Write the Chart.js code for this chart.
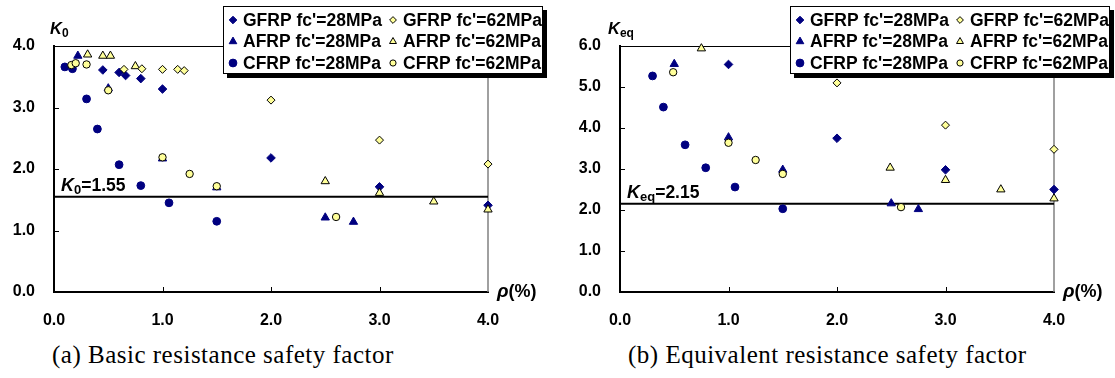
<!DOCTYPE html>
<html><head><meta charset="utf-8">
<script src="https://cdn.jsdelivr.net/npm/chart.js@4.4.0/dist/chart.umd.min.js"></script>
<style>
html,body{margin:0;padding:0;background:#fff;width:1115px;height:378px;overflow:hidden;position:relative;}
.pane{position:absolute;top:0;width:557px;height:340px;}
.cap{position:absolute;font-family:"Liberation Serif","Times New Roman",serif;font-size:25px;line-height:25px;letter-spacing:0.5px;white-space:nowrap;color:#000;}
</style></head><body>
<div class="pane" style="left:0"><canvas id="c1" width="557" height="340"></canvas></div>
<div class="pane" style="left:558px"><canvas id="c2" width="557" height="340"></canvas></div>
<div class="cap" style="left:52px;top:342px">(a) Basic resistance safety factor</div>
<div class="cap" style="left:628px;top:342px">(b) Equivalent resistance safety factor</div>
<script>
// ---------- data ----------
const X_TICKS = [0, 1, 2, 3, 4];
const K0_TICKS = [0, 1, 2, 3, 4];
const KEQ_TICKS = [0, 1, 2, 3, 4, 5, 6];
const K0_LIMIT = 1.55;
const KEQ_LIMIT = 2.15;
const SERIES_NAMES = ["GFRP fc'=28MPa", "AFRP fc'=28MPa", "CFRP fc'=28MPa",
                      "GFRP fc'=62MPa", "AFRP fc'=62MPa", "CFRP fc'=62MPa"];

// (a) K0 vs rho(%)
const k0_G28 = [[0.45,3.61],[0.60,3.57],[0.66,3.52],[0.80,3.47],[1.00,3.30],[2.00,2.18],[3.00,1.71],[4.00,1.41]];
const k0_A28 = [[0.22,3.84],[0.50,3.31],[1.00,2.17],[1.50,1.70],[2.50,1.21],[2.76,1.14]];
const k0_C28 = [[0.10,3.66],[0.17,3.63],[0.30,3.14],[0.40,2.65],[0.60,2.07],[0.80,1.73],[1.06,1.45],[1.50,1.15]];
const k0_G62 = [[0.645,3.62],[0.81,3.63],[1.00,3.62],[1.14,3.62],[1.20,3.60],[2.00,3.12],[3.00,2.47],[4.00,2.08]];
const k0_A62 = [[0.31,3.86],[0.45,3.84],[0.52,3.84],[0.75,3.67],[2.50,1.80],[3.00,1.61],[3.50,1.47],[4.00,1.34]];
const k0_C62 = [[0.16,3.69],[0.20,3.72],[0.30,3.70],[0.50,3.28],[1.00,2.19],[1.25,1.92],[1.50,1.72],[2.60,1.22]];

// (b) Keq vs rho(%)
const keq_G28 = [[1.00,5.55],[2.00,3.75],[3.00,2.98],[4.00,2.50]];
const keq_A28 = [[0.50,5.56],[1.00,3.77],[1.50,2.98],[2.50,2.16],[2.75,2.02]];
const keq_C28 = [[0.30,5.27],[0.40,4.51],[0.60,3.59],[0.79,3.03],[1.06,2.56],[1.50,2.03]];
const keq_G62 = [[2.00,5.10],[3.00,4.07],[4.00,3.48]];
const keq_A62 = [[0.75,5.94],[2.49,3.03],[3.00,2.73],[3.51,2.50],[4.00,2.28]];
const keq_C62 = [[0.49,5.36],[1.00,3.64],[1.25,3.22],[1.50,2.88],[2.59,2.07]];

// ---------- styles ----------
const F = '"Liberation Sans", Arial, Helvetica, sans-serif';
const NAVY = '#000080', YEL = '#FFFF99';
const STYLES = [
  {pointStyle:'rectRot',  radius:4.3, bg:NAVY, bc:NAVY, order:1, lr:3.8},
  {pointStyle:'triangle', radius:4.8, bg:NAVY, bc:NAVY, order:1, lr:4.4},
  {pointStyle:'circle',   radius:3.9, bg:NAVY, bc:NAVY, order:1, lr:3.9},
  {pointStyle:'rectRot',  radius:4.0, bg:YEL, bc:'#000', order:0, lr:3.4},
  {pointStyle:'triangle', radius:4.8, bg:YEL, bc:'#000', order:0, lr:4.0},
  {pointStyle:'circle',   radius:3.7, bg:YEL, bc:'#000', order:0, lr:3.1}
];

function rich(ctx, x, y, parts) {
  for (const [t, font, dy] of parts) {
    ctx.font = font; ctx.fillText(t, x, y + dy);
    x += ctx.measureText(t).width;
  }
}

function drawMarker(ctx, st, x, y, r) {
  ctx.save();
  ctx.fillStyle = st.bg; ctx.strokeStyle = st.bc; ctx.lineWidth = 1;
  ctx.beginPath();
  if (st.pointStyle === 'circle') {
    ctx.arc(x, y, r, 0, Math.PI * 2);
  } else if (st.pointStyle === 'rectRot') {
    ctx.moveTo(x - r, y); ctx.lineTo(x, y - r); ctx.lineTo(x + r, y); ctx.lineTo(x, y + r);
  } else {
    const w = r * Math.sqrt(3) / 2;
    ctx.moveTo(x - w, y + r / 2); ctx.lineTo(x, y - r); ctx.lineTo(x + w, y + r / 2);
  }
  ctx.closePath(); ctx.fill(); ctx.stroke();
  ctx.restore();
}

function makeChart(id, o) {
  const datasets = o.series.map((s, i) => ({
    label: SERIES_NAMES[i],
    data: s.map(p => ({x: p[0], y: p[1]})),
    pointStyle: STYLES[i].pointStyle,
    pointRadius: STYLES[i].radius,
    pointBackgroundColor: STYLES[i].bg,
    pointBorderColor: STYLES[i].bc,
    pointBorderWidth: 1,
    showLine: false,
    clip: false,
    order: STYLES[i].order
  }));

  const decor = {
    id: 'decor',
    beforeDatasetsDraw(chart) {
      const {ctx, chartArea: a, scales: {x, y}} = chart;
      ctx.save();
      ctx.strokeStyle = '#000'; ctx.lineWidth = 1;
      ctx.beginPath(); ctx.moveTo(a.left, a.top + 0.5); ctx.lineTo(a.right, a.top + 0.5); ctx.stroke();
      ctx.strokeStyle = '#808080'; ctx.lineWidth = 1.5;
      ctx.beginPath(); ctx.moveTo(a.right, a.top); ctx.lineTo(a.right, a.bottom); ctx.stroke();
      ctx.strokeStyle = '#000'; ctx.lineWidth = 1;
      X_TICKS.slice(1, -1).forEach(v => {
        const px = Math.round(x.getPixelForValue(v)) + 0.5;
        ctx.beginPath(); ctx.moveTo(px, a.bottom); ctx.lineTo(px, a.bottom - 5); ctx.stroke();
      });
      o.yTicks.slice(1, -1).forEach(v => {
        const py = Math.round(y.getPixelForValue(v)) + 0.5;
        ctx.beginPath(); ctx.moveTo(a.left, py); ctx.lineTo(a.left + 5, py); ctx.stroke();
      });
      const ly = y.getPixelForValue(o.limit);
      ctx.strokeStyle = '#000'; ctx.lineWidth = 2;
      ctx.beginPath(); ctx.moveTo(a.left, ly); ctx.lineTo(a.right, ly); ctx.stroke();
      ctx.fillStyle = '#000'; ctx.textBaseline = 'alphabetic'; ctx.textAlign = 'left';
      rich(ctx, a.left + 7, ly - 5.5, [
        ['K', 'italic bold 18px ' + F, 0],
        [o.sub, 'bold 13px ' + F, 2.5],
        ['=' + o.limit.toFixed(2), 'bold 17.5px ' + F, 0]
      ]);
      ctx.restore();
    },
    afterDraw(chart) {
      const {ctx, chartArea: a} = chart;
      ctx.save();
      ctx.fillStyle = '#000'; ctx.textBaseline = 'alphabetic'; ctx.textAlign = 'left';
      rich(ctx, a.left + o.titleDx, 33.5, [
        ['K', 'italic bold 16.5px ' + F, 0],
        [o.sub, 'bold 12px ' + F, 3]
      ]);
      ctx.textBaseline = 'middle';
      rich(ctx, a.right + 9, a.bottom, [
        ['\u03C1', 'italic bold 19px ' + F, 0],
        ['(%)', 'bold 18px ' + F, 0]
      ]);
      const bx = o.legendX, by = 6, bw = 320, bh = 68;
      ctx.fillStyle = '#000';
      ctx.fillRect(bx + 4, by + 4, bw, bh);
      ctx.fillStyle = '#fff';
      ctx.fillRect(bx, by, bw, bh);
      ctx.strokeStyle = '#000'; ctx.lineWidth = 1;
      ctx.strokeRect(bx + 0.5, by + 0.5, bw - 1, bh - 1);
      ctx.textBaseline = 'middle';
      for (let i = 0; i < 6; i++) {
        const col = Math.floor(i / 3), row = i % 3;
        const mx = bx + 10 + col * 160, my = by + 14 + row * 21.5;
        drawMarker(ctx, STYLES[i], mx, my, STYLES[i].lr);
        ctx.fillStyle = '#000';
        ctx.font = 'bold 17.5px ' + F;
        ctx.fillText(SERIES_NAMES[i], mx + 10, my + 1);
      }
      ctx.restore();
    }
  };

  return new Chart(document.getElementById(id), {
    type: 'scatter',
    data: {datasets},
    options: {
      responsive: false, animation: false, events: [],
      layout: {padding: {left: 0, top: 46, right: o.padRight, bottom: 0}},
      plugins: {legend: {display: false}, tooltip: {enabled: false}},
      scales: {
        x: {
          type: 'linear', min: 0, max: 4,
          afterBuildTicks: s => { s.ticks = X_TICKS.map(v => ({value: v})); },
          afterFit: s => { s.height = 48; },
          grid: {display: false, drawTicks: false, tickLength: 0},
          border: {display: true, color: '#000', width: 2},
          ticks: {color: '#000', font: {family: F, size: 16, weight: 'bold'}, padding: 19,
                  maxRotation: 0, callback: v => Number(v).toFixed(1)}
        },
        y: {
          type: 'linear', min: 0, max: o.yTicks[o.yTicks.length - 1],
          afterBuildTicks: s => { s.ticks = o.yTicks.map(v => ({value: v})); },
          afterFit: s => { s.width = o.yWidth; },
          grid: {display: false, drawTicks: false, tickLength: 0},
          border: {display: true, color: '#000', width: 2},
          ticks: {color: '#000', font: {family: F, size: 16, weight: 'bold'}, padding: 19,
                  callback: v => Number(v).toFixed(1)}
        }
      }
    },
    plugins: [decor]
  });
}

makeChart('c1', {
  series: [k0_G28, k0_A28, k0_C28, k0_G62, k0_A62, k0_C62],
  yTicks: K0_TICKS, limit: K0_LIMIT, sub: '0',
  yWidth: 54, padRight: 69, legendX: 223, titleDx: -4
});
makeChart('c2', {
  series: [keq_G28, keq_A28, keq_C28, keq_G62, keq_A62, keq_C62],
  yTicks: KEQ_TICKS, limit: KEQ_LIMIT, sub: 'eq',
  yWidth: 62, padRight: 61, legendX: 232, titleDx: -12
});
</script>
</body></html>
